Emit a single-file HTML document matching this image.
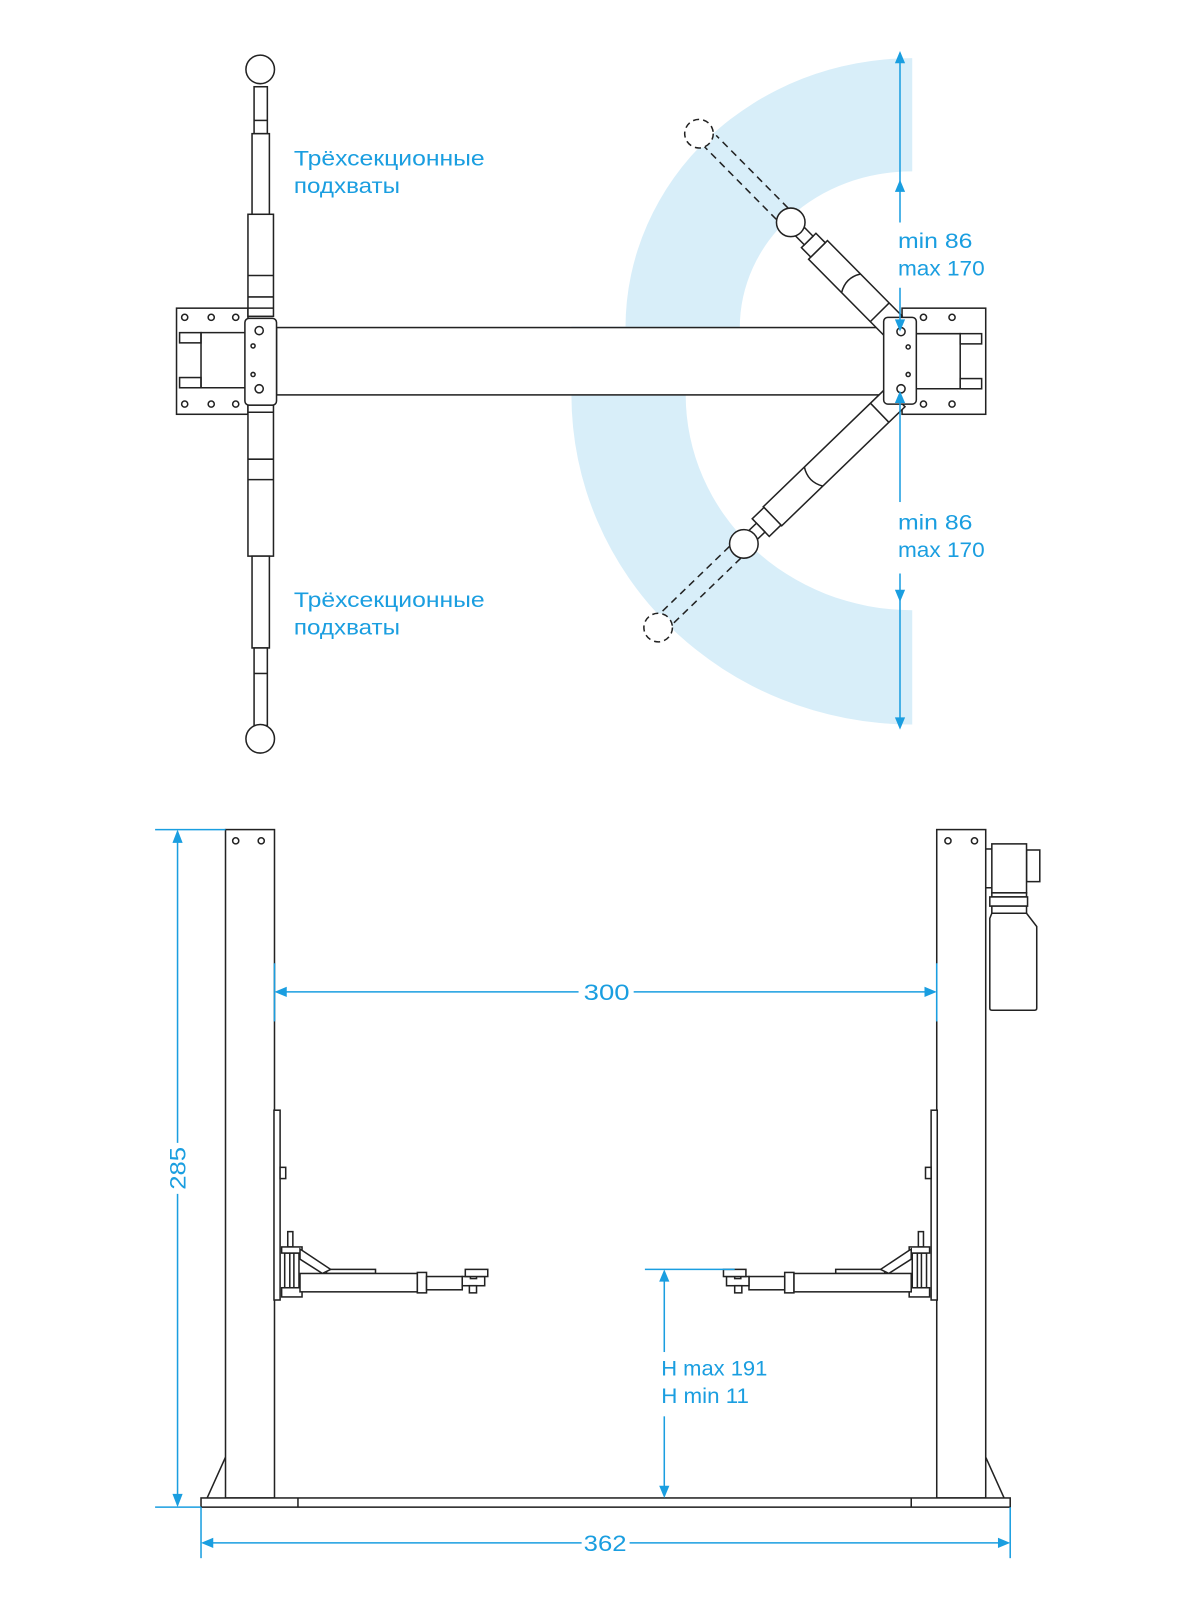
<!DOCTYPE html>
<html><head><meta charset="utf-8"><style>
html,body{margin:0;padding:0;background:#fff;width:1200px;height:1600px;overflow:hidden}
svg{display:block}
text{font-family:"Liberation Sans",sans-serif;fill:#1a9ee0}
</style></head><body>
<svg width="1200" height="1600" viewBox="0 0 1176 1568" xmlns="http://www.w3.org/2000/svg">
<defs>
<g id="sarm" fill="#fff" stroke="#222" stroke-width="1.5">
  <rect x="268.5" y="1088" width="6" height="186"/>
  <rect x="274.5" y="1144" width="5.5" height="11"/>
  <rect x="282" y="1207" width="5" height="15"/>
  <rect x="279" y="1228" width="14" height="34"/>
  <line x1="284" y1="1228" x2="284" y2="1262"/>
  <line x1="288" y1="1228" x2="288" y2="1262"/>
  <rect x="276" y="1222" width="20" height="6"/>
  <rect x="276" y="1262" width="20" height="9"/>
  <rect x="320" y="1244" width="48" height="4"/>
  <polygon points="294,1224 324,1244 316,1248 294,1234"/>
  <rect x="294" y="1248" width="115" height="18"/>
  <rect x="409" y="1247" width="9" height="20"/>
  <rect x="418" y="1251" width="35" height="13"/>
  <rect x="453" y="1251" width="22" height="9"/>
  <rect x="460" y="1260" width="7" height="7"/>
  <rect x="461" y="1250" width="6" height="3"/>
  <rect x="456" y="1244" width="22" height="7"/>
</g>
</defs>
<!-- blue band -->
<path d="M894,57 A281,264 0 0 0 613,321 L725,321 A168,153 0 0 1 894,168 Z" fill="#d8eef9"/>
<path d="M560,387 A334,323 0 0 0 894,710 L894,598 A222,211 0 0 1 672,387 Z" fill="#d8eef9"/>
<rect x="560" y="320" width="60" height="68" fill="#d8eef9"/>

<g fill="#fff" stroke="#222" stroke-width="1.5">
<!-- left top view -->
<rect x="173" y="302" width="70" height="104"/>
<circle cx="181" cy="311" r="3"/><circle cx="207" cy="311" r="3"/><circle cx="231" cy="311" r="3"/>
<circle cx="181" cy="396" r="3"/><circle cx="207" cy="396" r="3"/><circle cx="231" cy="396" r="3"/>
<rect x="176" y="326" width="21" height="10"/><rect x="176" y="370" width="21" height="10"/>
<polyline points="240,326 197,326 197,380 240,380" fill="none"/>
<rect x="249" y="85" width="13" height="46"/><line x1="249" y1="118" x2="262" y2="118"/>
<rect x="247" y="131" width="17" height="79"/>
<rect x="243" y="210" width="25" height="100"/>
<line x1="243" y1="270" x2="268" y2="270"/><line x1="243" y1="291" x2="268" y2="291"/><line x1="243" y1="302" x2="268" y2="302"/>
<circle cx="255" cy="68" r="14"/>
<rect x="243" y="397" width="25" height="148"/>
<line x1="243" y1="404" x2="268" y2="404"/><line x1="243" y1="450" x2="268" y2="450"/><line x1="243" y1="470" x2="268" y2="470"/>
<rect x="247" y="545" width="17" height="90"/>
<rect x="249" y="635" width="13" height="76"/><line x1="249" y1="660" x2="262" y2="660"/>
<circle cx="255" cy="724" r="14"/>
<rect x="271" y="321" width="596" height="66"/>
<rect x="240" y="312" width="31" height="85" rx="4"/>
<circle cx="254" cy="324" r="4"/><circle cx="254" cy="381" r="4"/>
<circle cx="248" cy="339" r="2"/><circle cx="248" cy="367" r="2"/>
<rect x="884" y="302" width="82" height="104"/>
<circle cx="905" cy="311" r="3"/><circle cx="933" cy="311" r="3"/>
<circle cx="905" cy="396" r="3"/><circle cx="933" cy="396" r="3"/>
<polyline points="898,327 941,327 941,381 898,381" fill="none"/>
<rect x="941" y="327" width="21" height="10"/><rect x="941" y="371" width="21" height="10"/>
<!-- upper right arm -->
<g transform="translate(872,316) rotate(225.3)">
  <line x1="150" y1="-8" x2="250" y2="-8" stroke-dasharray="7,5"/>
  <line x1="150" y1="8" x2="250" y2="8" stroke-dasharray="7,5"/>
  <rect x="-4" y="-13" width="104" height="26"/>
  <line x1="14" y1="-13" x2="14" y2="13"/>
  <path d="M54,-13 Q62,0 54,13" fill="none"/>
  <rect x="100" y="-10" width="13" height="20"/>
  <rect x="113" y="-6" width="12" height="12"/>
  <circle cx="138" cy="0" r="14"/>
</g>
<circle cx="685" cy="131" r="14" stroke-dasharray="6,4"/>
<!-- lower right arm -->
<g transform="translate(875,392) rotate(136)">
  <line x1="215" y1="-8" x2="306" y2="-8" stroke-dasharray="7,5"/>
  <line x1="215" y1="8" x2="306" y2="8" stroke-dasharray="7,5"/>
  <rect x="-4" y="-13" width="168" height="26"/>
  <line x1="18" y1="-13" x2="18" y2="13"/>
  <path d="M108,-13 Q116,0 108,13" fill="none"/>
  <rect x="164" y="-12" width="16" height="24"/>
  <rect x="180" y="-6" width="10" height="12"/>
  <circle cx="203" cy="0" r="14"/>
</g>
<circle cx="645" cy="615" r="14" stroke-dasharray="6,4"/>
<rect x="866" y="311" width="32" height="85" rx="4"/>
<circle cx="883" cy="325" r="4"/><circle cx="883" cy="381" r="4"/>
<circle cx="890" cy="340" r="2"/><circle cx="890" cy="367" r="2"/>

<!-- bottom view -->
<line x1="203" y1="1468" x2="221" y2="1428"/>
<line x1="984" y1="1468" x2="966" y2="1428"/>
<rect x="221" y="813" width="48" height="655"/>
<circle cx="231" cy="824" r="3"/><circle cx="256" cy="824" r="3"/>
<rect x="918" y="813" width="48" height="655"/>
<circle cx="929" cy="824" r="3"/><circle cx="955" cy="824" r="3"/>
<rect x="197" y="1468" width="793" height="9"/>
<line x1="292" y1="1468" x2="292" y2="1477"/><line x1="893" y1="1468" x2="893" y2="1477"/>
<line x1="966" y1="832" x2="972" y2="832"/><line x1="966" y1="870" x2="972" y2="870"/>
<rect x="1006" y="833" width="13" height="31"/>
<rect x="972" y="827" width="34" height="48"/>
<rect x="972" y="875" width="34" height="4"/>
<rect x="970" y="879" width="37" height="9"/>
<rect x="972" y="888" width="34" height="7"/>
<path d="M972,895 L1006,895 L1016,908 L1016,988 Q1016,990 1014,990 L972,990 Q970,990 970,988 L970,900 Z"/>
</g>
<use href="#sarm"/>
<use href="#sarm" transform="translate(1187,0) scale(-1,1)"/>

<g stroke="#1a9ee0" stroke-width="1.5" fill="none">
<line x1="882" y1="52" x2="882" y2="218"/>
<line x1="882" y1="282" x2="882" y2="320"/>
<line x1="882" y1="386" x2="882" y2="492"/>
<line x1="882" y1="562" x2="882" y2="713"/>
<line x1="174" y1="815" x2="174" y2="1120"/>
<line x1="174" y1="1170" x2="174" y2="1475"/>
<line x1="152" y1="813" x2="221" y2="813"/>
<line x1="152" y1="1477" x2="197" y2="1477"/>
<line x1="271" y1="972" x2="567" y2="972"/>
<line x1="621" y1="972" x2="916" y2="972"/>
<line x1="269" y1="944" x2="269" y2="1001"/>
<line x1="918" y1="944" x2="918" y2="1001"/>
<line x1="199" y1="1512" x2="570" y2="1512"/>
<line x1="617" y1="1512" x2="988" y2="1512"/>
<line x1="197" y1="1477" x2="197" y2="1527"/>
<line x1="990" y1="1477" x2="990" y2="1527"/>
<line x1="632" y1="1244" x2="720" y2="1244"/>
<line x1="651" y1="1246" x2="651" y2="1325"/>
<line x1="651" y1="1388" x2="651" y2="1466"/>
</g>
<g fill="#1a9ee0">
<polygon points="882,50 877,62 887,62"/>
<polygon points="882,176 877,188 887,188"/>
<polygon points="882,325 877,313 887,313"/>
<polygon points="882,383 877,395 887,395"/>
<polygon points="882,590 877,578 887,578"/>
<polygon points="882,715 877,703 887,703"/>
<polygon points="174,813 169,826 179,826"/>
<polygon points="174,1477 169,1464 179,1464"/>
<polygon points="269,972 281,967 281,977"/>
<polygon points="918,972 906,967 906,977"/>
<polygon points="197,1512 209,1507 209,1517"/>
<polygon points="990,1512 978,1507 978,1517"/>
<polygon points="651,1244 646,1256 656,1256"/>
<polygon points="651,1468 646,1456 656,1456"/>
</g>
<g font-size="21">
<text x="288" y="162" textLength="187" lengthAdjust="spacingAndGlyphs">Трёхсекционные</text>
<text x="288" y="189" textLength="104" lengthAdjust="spacingAndGlyphs">подхваты</text>
<text x="288" y="595" textLength="187" lengthAdjust="spacingAndGlyphs">Трёхсекционные</text>
<text x="288" y="622" textLength="104" lengthAdjust="spacingAndGlyphs">подхваты</text>
<text x="880" y="243" textLength="73" lengthAdjust="spacingAndGlyphs">min 86</text>
<text x="880" y="270" textLength="85" lengthAdjust="spacingAndGlyphs">max 170</text>
<text x="880" y="519" textLength="73" lengthAdjust="spacingAndGlyphs">min 86</text>
<text x="880" y="546" textLength="85" lengthAdjust="spacingAndGlyphs">max 170</text>
<text x="648" y="1348" textLength="104" lengthAdjust="spacingAndGlyphs">H max 191</text>
<text x="648" y="1375" textLength="86" lengthAdjust="spacingAndGlyphs">H min 11</text>
</g>
<g font-size="22">
<text x="572" y="980" textLength="45" lengthAdjust="spacingAndGlyphs">300</text>
<text x="572" y="1520" textLength="42" lengthAdjust="spacingAndGlyphs">362</text>
<text transform="translate(182,1166) rotate(-90)" textLength="42" lengthAdjust="spacingAndGlyphs">285</text>
</g>
</svg>
</body></html>
